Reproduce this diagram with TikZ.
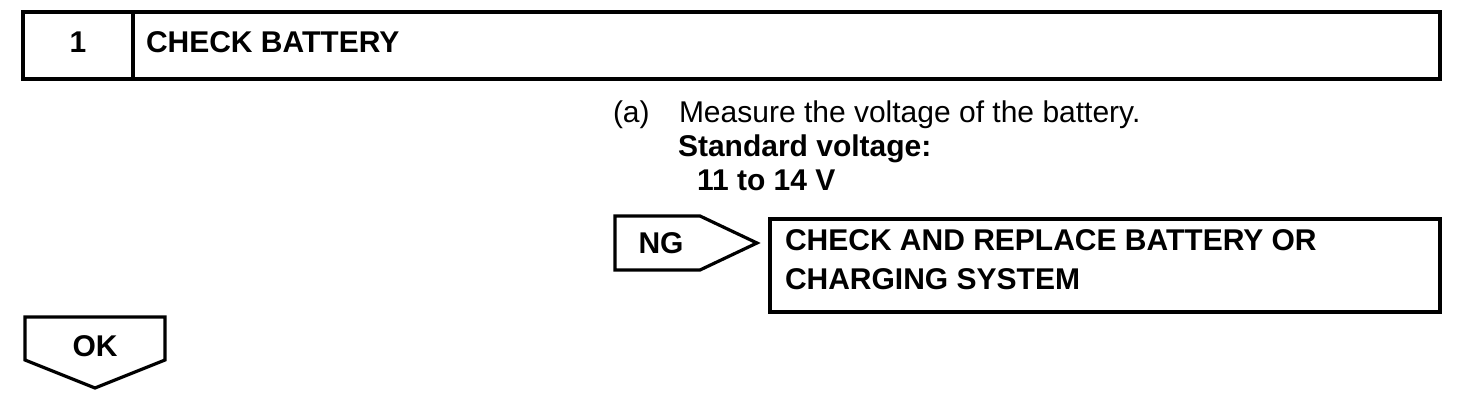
\documentclass[tikz,border=0pt]{standalone}
\usepackage{fontspec}
\setmainfont{Liberation Sans}
\begin{document}
\begin{tikzpicture}[x=1pt,y=-1pt,
  txt/.style={inner sep=0pt,outer sep=0pt,font=\fontsize{30}{36}\selectfont},
  btxt/.style={txt,font=\fontsize{30}{36}\selectfont\bfseries},
  heavy/.style={line width=4pt,line join=miter},
  medium/.style={line width=3.2pt,line join=miter}]
\useasboundingbox (0,0) rectangle (1472,414);
% header
\draw[heavy] (23,12) rectangle (1440,79);
\draw[heavy] (133,12) -- (133,79);
\node[btxt,anchor=base] (num) at (78,53) {1};
\node[btxt,anchor=base west] (title) at (146,53) {CHECK BATTERY};
% instructions
\node[txt,anchor=base west] (lbl) at (613,123) {(a)};
\node[txt,anchor=base west] (meas) at (679,123) {Measure the voltage of the battery.};
\node[btxt,anchor=base west] (std) at (678,157) {Standard voltage:};
\node[btxt,anchor=base west] (val) at (697,191) {11 to 14 V};
% NG arrow
\draw[medium] (615,216) -- (700,216) -- (757,243) -- (700,270) -- (615,270) -- cycle;
\node[btxt] (ng) at (661,243) {NG};
% result box
\draw[heavy] (770,219) rectangle (1440,312);
\node[btxt,anchor=base west] (res1) at (785,251) {CHECK AND REPLACE BATTERY OR};
\node[btxt,anchor=base west] (res2) at (785,289) {CHARGING SYSTEM};
% OK arrow
\draw[medium] (25,317) -- (165,317) -- (165,360) -- (95,388) -- (25,360) -- cycle;
\node[btxt] (ok) at (95,346) {OK};
\end{tikzpicture}
\end{document}
